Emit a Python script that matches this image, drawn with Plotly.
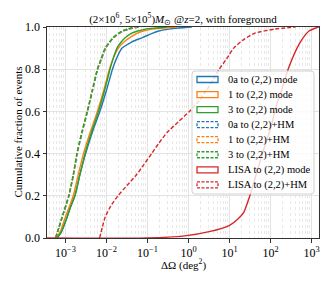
import plotly.graph_objects as go

# ---- data (ΔΩ in deg^2, cumulative fraction) ----
names = ["0a to (2,2) mode", "1 to (2,2) mode", "3 to (2,2) mode",
         "0a to (2,2)+HM", "1 to (2,2)+HM", "3 to (2,2)+HM",
         "LISA to (2,2) mode", "LISA to (2,2)+HM"]
colors = ["#1f77b4", "#ff7f0e", "#2ca02c", "#1f77b4", "#ff7f0e", "#2ca02c",
          "#d62728", "#d62728"]
dashed = [False, False, False, True, True, True, False, True]

frac_a = [0, 0.03, 0.10, 0.15, 0.20, 0.30, 0.40, 0.50, 0.60, 0.70, 0.80,
          0.85, 0.90, 0.93, 0.95, 0.97, 0.98, 0.99, 0.995, 1.0]
x_0a = [6.3e-4, 8.0e-4, 1.1e-3, 1.35e-3, 1.7e-3, 2.25e-3, 3.1e-3, 4.5e-3,
        6.9e-3, 1.0e-2, 1.4e-2, 1.75e-2, 2.4e-2, 4.2e-2, 7.5e-2, 0.13,
        0.18, 0.33, 0.55, 1.2]
x_1 = [6.0e-4, 7.5e-4, 1.0e-3, 1.25e-3, 1.55e-3, 2.05e-3, 2.75e-3, 4.0e-3,
       6.0e-3, 8.6e-3, 1.18e-2, 1.45e-2, 1.95e-2, 2.7e-2, 3.7e-2, 5.5e-2,
       7.5e-2, 0.13, 0.25, 0.5]
x_3 = [6.3e-4, 8.0e-4, 1.1e-3, 1.35e-3, 1.7e-3, 2.25e-3, 3.0e-3, 4.3e-3,
       6.4e-3, 9.0e-3, 1.22e-2, 1.45e-2, 1.8e-2, 2.3e-2, 2.9e-2, 4.0e-2,
       5.5e-2, 9.0e-2, 0.15, 0.3]

frac_hm = [0, 0.05, 0.10, 0.20, 0.30, 0.40, 0.50, 0.60, 0.70, 0.80, 0.85,
           0.90, 0.95, 0.98, 0.99, 1.0]
x_0a_hm = [5.8e-4, 7.0e-4, 8.4e-4, 1.22e-3, 1.57e-3, 1.93e-3, 2.55e-3,
           3.45e-3, 4.6e-3, 6.1e-3, 7.6e-3, 9.6e-3, 1.5e-2, 2.5e-2, 3.6e-2, 6.0e-2]
x_1_hm = [5.7e-4, 6.9e-4, 8.3e-4, 1.2e-3, 1.55e-3, 1.9e-3, 2.5e-3,
          3.4e-3, 4.5e-3, 6.0e-3, 7.5e-3, 9.4e-3, 1.48e-2, 2.4e-2, 3.4e-2, 5.5e-2]
x_3_hm = [5.75e-4, 6.9e-4, 8.3e-4, 1.2e-3, 1.55e-3, 1.9e-3, 2.5e-3,
          3.4e-3, 4.5e-3, 6.0e-3, 7.4e-3, 9.3e-3, 1.45e-2, 2.3e-2, 3.2e-2, 5.0e-2]

frac_lisa = [0, 0, 0.01, 0.03, 0.06, 0.09, 0.12, 0.19, 0.27, 0.40, 0.52,
             0.62, 0.69, 0.81, 0.92, 0.98, 1.0]
x_lisa = [3e-4, 0.1, 0.8, 3.2, 10, 16, 22, 30, 40, 63, 100, 135, 178, 280,
          500, 850, 1480]

frac_lisa_hm = [0, 0.05, 0.10, 0.15, 0.20, 0.25, 0.30, 0.35, 0.40, 0.45,
                0.50, 0.55, 0.60, 0.65, 0.70, 0.75, 0.80, 0.85, 0.90, 0.94,
                0.97, 0.99, 1.0]
x_lisa_hm = [6.8e-3, 7.9e-3, 9.3e-3, 1.26e-2, 1.9e-2, 3.2e-2, 5.4e-2, 8.3e-2,
             0.126, 0.19, 0.30, 0.56, 1.05, 1.8, 2.75, 4.0, 5.6, 8.5, 12.6,
             22, 40, 126, 400]

xs = [x_0a, x_1, x_3, x_0a_hm, x_1_hm, x_3_hm, x_lisa, x_lisa_hm]
ys = [frac_a, frac_a, frac_a, frac_hm, frac_hm, frac_hm, frac_lisa, frac_lisa_hm]

x_tickvals = [1e-3, 1e-2, 1e-1, 1e0, 1e1, 1e2, 1e3]
x_ticktext = ["10<sup>−3</sup>", "10<sup>−2</sup>", "10<sup>−1</sup>",
              "10<sup>0</sup>", "10<sup>1</sup>", "10<sup>2</sup>",
              "10<sup>3</sup>"]
y_tickvals = [0.0, 0.2, 0.4, 0.6, 0.8, 1.0]
y_ticktext = ["0.0", "0.2", "0.4", "0.6", "0.8", "1.0"]

title_text = ("(2×10<sup>6</sup>, 5×10<sup>5</sup>)<i>M</i><sub>⊙</sub> "
              "@<i>z</i>=2, with foreground")
xlabel = "ΔΩ (deg<sup>2</sup>)"
ylabel = "Cumulative fraction of events"

FONT = "Liberation Serif, Times New Roman, serif"

fig = go.Figure()
for x, y, n, c, d in zip(xs, ys, names, colors, dashed):
    fig.add_trace(go.Scatter(
        x=x, y=y, mode="lines", name=n, showlegend=False,
        line=dict(color=c, width=1.4, dash="4px,2px" if d else "solid",
                  shape="spline", smoothing=0.6)))

# plot area geometry (px)
W, H = 333, 286
L, R, T, B = 47, 14, 27, 48
pw, ph = W - L - R, H - T - B

def px2paper(px, py):
    return (px - L) / pw, (H - B - py) / ph

shapes = []
annotations = []

# legend box (rounded)
x0, y0 = px2paper(192, 71)
x1, y1 = px2paper(314, 194)
rx, ry = 3 / pw, 3 / ph
path = (f"M{x0+rx},{y0} L{x1-rx},{y0} Q{x1},{y0} {x1},{y0-ry} "
        f"L{x1},{y1+ry} Q{x1},{y1} {x1-rx},{y1} L{x0+rx},{y1} "
        f"Q{x0},{y1} {x0},{y1+ry} L{x0},{y0-ry} Q{x0},{y0} {x0+rx},{y0} Z")
shapes.append(dict(type="path", path=path, xref="paper", yref="paper",
                   fillcolor="rgba(255,255,255,0.8)",
                   line=dict(color="rgba(204,204,204,0.9)", width=1),
                   layer="above"))
for i, (n, c, d) in enumerate(zip(names, colors, dashed)):
    cy = 79.5 + i * 15.05
    hx0, hy0 = px2paper(197, cy - 3)
    hx1, hy1 = px2paper(218, cy + 3)
    shapes.append(dict(type="rect", xref="paper", yref="paper",
                       x0=hx0, x1=hx1, y0=hy1, y1=hy0,
                       line=dict(color=c, width=1.3,
                                 dash="3px,1.5px" if d else "solid"),
                       fillcolor="rgba(0,0,0,0)", layer="above"))
    tx, ty = px2paper(225.5, cy)
    annotations.append(dict(text=n, x=tx, y=ty, xref="paper", yref="paper",
                            xanchor="left", yanchor="middle", showarrow=False,
                            font=dict(family=FONT, size=10.5, color="black")))

# axis labels
ax, ay = px2paper(0, 264)
annotations.append(dict(text=xlabel, x=0.5, y=ay, xref="paper", yref="paper",
                        xanchor="center", yanchor="middle", showarrow=False,
                        font=dict(family=FONT, size=11, color="black")))
bx, by = px2paper(17, 0)
annotations.append(dict(text=ylabel, x=bx, y=0.5, xref="paper", yref="paper",
                        xanchor="center", yanchor="middle", showarrow=False,
                        textangle=-90,
                        font=dict(family=FONT, size=11, color="black")))

fig.update_layout(
    width=W, height=H,
    margin=dict(l=L, r=R, t=T, b=B),
    paper_bgcolor="white", plot_bgcolor="white",
    title=dict(text=title_text, x=(L + pw / 2) / W, xanchor="center",
               y=1 - 19 / H, yanchor="middle", yref="container",
               font=dict(family=FONT, size=11, color="black")),
    font=dict(family=FONT, color="black"),
    shapes=shapes, annotations=annotations,
    xaxis=dict(type="log", range=[-3.45, 3.18],
               tickmode="array", tickvals=x_tickvals, ticktext=x_ticktext,
               ticklabeloverflow="allow",
               showgrid=True, gridcolor="#e3e3e3", gridwidth=1,
               minor=dict(showgrid=True, gridcolor="#e8e8e8", griddash="dot",
                          dtick="D1", ticks=""),
               ticks="outside", ticklen=3.5, tickcolor="#333",
               showline=True, linecolor="#333", linewidth=1, mirror=True,
               tickfont=dict(family=FONT, size=12, color="black"),
               zeroline=False),
    yaxis=dict(range=[0, 1], tickmode="array", tickvals=y_tickvals,
               ticktext=y_ticktext,
               showgrid=True, gridcolor="#e3e3e3", gridwidth=1,
               ticks="outside", ticklen=3.5, tickcolor="#333",
               showline=True, linecolor="#333", linewidth=1, mirror=True,
               tickfont=dict(family=FONT, size=12, color="black"),
               zeroline=False),
)

fig.write_html("out.html",
               config={"displayModeBar": False, "staticPlot": True},
               post_script="document.body.style.margin='0';"
                           "document.body.style.overflow='hidden';")
